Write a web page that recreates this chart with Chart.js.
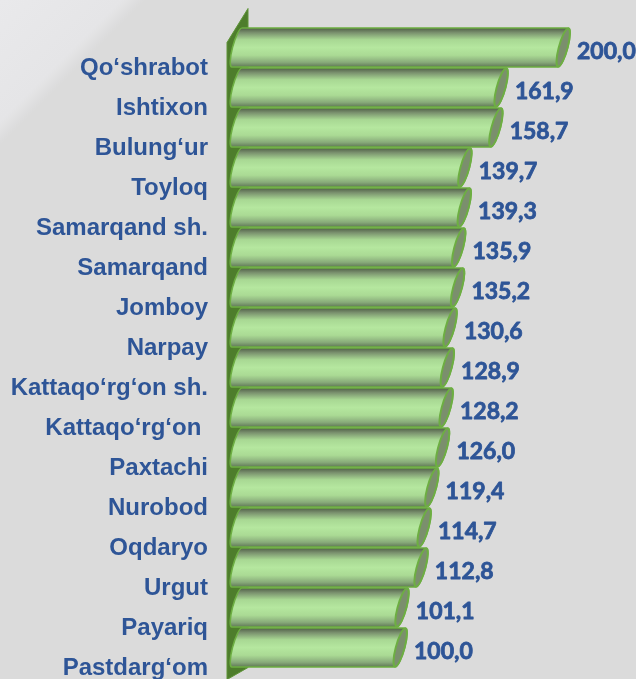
<!DOCTYPE html>
<html>
<head>
<meta charset="utf-8">
<script src="https://cdn.jsdelivr.net/npm/chart.js@4"></script>
<style>
  html, body { margin: 0; padding: 0; }
  body {
    width: 636px; height: 679px; overflow: hidden;
    background: linear-gradient(135deg, #E9E9EB 0%, #E5E5E7 9.3%, #DBDBDB 11%, #DBDBDB 100%);
  }
  #wrap { position: relative; width: 636px; height: 679px; }
</style>
</head>
<body>
<div id="wrap"><canvas id="chart"></canvas></div>
<script>
// Districts, sorted by growth rate
const districts = [
  'Qo‘shrabot', 'Ishtixon', 'Bulung‘ur', 'Toyloq', 'Samarqand sh.', 'Samarqand',
  'Jomboy', 'Narpay', 'Kattaqo‘rg‘on sh.', 'Kattaqo‘rg‘on ', 'Paxtachi', 'Nurobod',
  'Oqdaryo', 'Urgut', 'Payariq', 'Pastdarg‘om'
];
const growth = [
  200.0, 161.9, 158.7, 139.7, 139.3, 135.9, 135.2, 130.6,
  128.9, 128.2, 126.0, 119.4, 114.7, 112.8, 101.1, 100.0
];
const axisMin = 0;
const axisMax = 200;

const TEXT_BLUE = '#2E5597';
const BAR_EDGE = '#6DAE42';
const WALL = '#4E7D2C';

// Side wall of the 3D plot, drawn behind the cylinders
const wallPlugin = {
  id: 'wall',
  beforeDatasetsDraw(chart) {
    const { ctx, chartArea: a } = chart;
    const x0 = a.left - 17, x1 = a.left + 4;
    ctx.save();
    ctx.beginPath();
    ctx.moveTo(x0, a.top + 15);
    ctx.lineTo(x1, a.top - 19);
    ctx.lineTo(x1, a.bottom);
    ctx.lineTo(x0, a.bottom + 12);
    ctx.closePath();
    ctx.fillStyle = WALL;
    ctx.fill();
    ctx.strokeStyle = '#5E9437';
    ctx.lineWidth = 1;
    ctx.stroke();
    ctx.restore();
  }
};

// Horizontal cylinders with a slanted elliptical cap
function cylinderPath(ctx, L, R, cy, rx, ry) {
  ctx.beginPath();
  ctx.moveTo(L, cy - ry);
  ctx.lineTo(R, cy - ry);
  ctx.ellipse(R, cy, rx, ry, 0, -Math.PI / 2, Math.PI / 2, false);
  ctx.lineTo(L, cy + ry);
  ctx.ellipse(L, cy, rx, ry, 0, Math.PI / 2, Math.PI * 1.5, false);
  ctx.closePath();
}

const cylinderPlugin = {
  id: 'cylinders',
  afterDatasetsDraw(chart) {
    const { ctx } = chart;
    const meta = chart.getDatasetMeta(0);
    const k = -0.26;   // slant of the end ellipses
    const rx = 4.5;
    meta.data.forEach((el) => {
      const cy = el.y;
      const ry = el.height / 2;
      const reach = Math.sqrt(rx * rx + (k * ry) * (k * ry));
      const R = el.x - reach;
      const L = el.base - 7;
      ctx.save();
      ctx.transform(1, 0, k, 1, -k * cy, 0);
      const g = ctx.createLinearGradient(0, cy - ry, 0, cy + ry);
      g.addColorStop(0.00, '#4F5E47');
      g.addColorStop(0.12, '#7A916E');
      g.addColorStop(0.30, '#A8D893');
      g.addColorStop(0.50, '#B5E79F');
      g.addColorStop(0.70, '#AADA94');
      g.addColorStop(0.88, '#88AA7A');
      g.addColorStop(1.00, '#5F7755');
      cylinderPath(ctx, L, R, cy, rx, ry);
      ctx.fillStyle = g;
      ctx.fill();
      ctx.lineWidth = 1.6;
      ctx.strokeStyle = BAR_EDGE;
      ctx.stroke();
      // end cap
      ctx.beginPath();
      ctx.ellipse(R, cy, rx, ry - 0.5, 0, 0, Math.PI * 2);
      ctx.fillStyle = '#7B8F6D';
      ctx.fill();
      ctx.lineWidth = 2;
      ctx.strokeStyle = BAR_EDGE;
      ctx.stroke();
      ctx.restore();
    });
  }
};

// Value labels beside each cylinder
const valueLabelPlugin = {
  id: 'valueLabels',
  afterDatasetsDraw(chart) {
    const { ctx } = chart;
    const meta = chart.getDatasetMeta(0);
    ctx.save();
    ctx.font = 'bold 23px Lato, "Open Sans", sans-serif';
    ctx.fillStyle = TEXT_BLUE;
    ctx.strokeStyle = TEXT_BLUE;
    ctx.lineWidth = 0.8;
    ctx.lineJoin = 'round';
    ctx.textAlign = 'left';
    ctx.textBaseline = 'middle';
    meta.data.forEach((el, i) => {
      const txt = growth[i].toFixed(1).replace('.', ',');
      ctx.fillText(txt, el.x + 7, el.y + 4);
      ctx.strokeText(txt, el.x + 7, el.y + 4);
    });
    ctx.restore();
  }
};

new Chart(document.getElementById('chart'), {
  type: 'bar',
  data: {
    labels: districts,
    datasets: [{
      data: growth,
      backgroundColor: 'rgba(0,0,0,0)',
      borderWidth: 0,
      barPercentage: 0.975,
      categoryPercentage: 1
    }]
  },
  options: {
    indexAxis: 'y',
    responsive: true,
    maintainAspectRatio: false,
    animation: false,
    layout: { padding: { top: 27.5, bottom: 11.5, right: 66, left: 0 } },
    plugins: { legend: { display: false }, tooltip: { enabled: false } },
    scales: {
      x: { display: false, min: axisMin, max: axisMax },
      y: {
        grid: { display: false },
        border: { display: false },
        ticks: {
          autoSkip: false,
          color: TEXT_BLUE,
          font: { family: '"Liberation Sans", Arial, sans-serif', size: 24, weight: 'bold' },
          padding: 28,
          labelOffset: 21
        },
        afterFit(scale) {
          scale.width = 244;
          scale.paddingTop = 0;
          scale.paddingBottom = 0;
        }
      }
    }
  },
  plugins: [wallPlugin, cylinderPlugin, valueLabelPlugin]
});
</script>
</body>
</html>
